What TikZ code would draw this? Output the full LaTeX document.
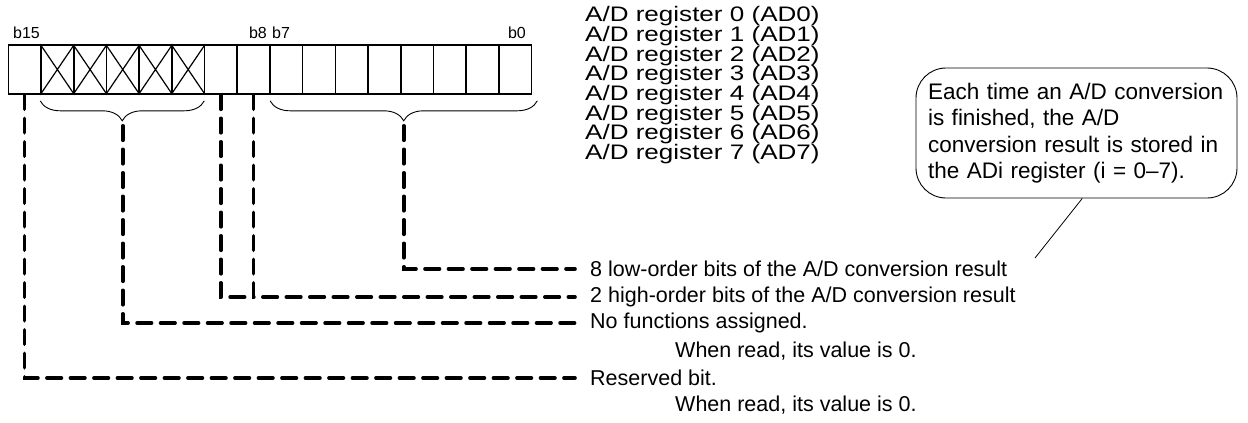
\documentclass[tikz,border=0pt]{standalone}
\usepackage{fontspec}
\setmainfont{Liberation Sans}
\newfontfamily\regfont[FakeStretch=1.24]{Liberation Sans}
\usetikzlibrary{calc}
\usetikzlibrary{decorations.pathreplacing}

\begin{document}
\begin{tikzpicture}[x=1pt, y=-1pt,
		cell/.style={draw, line width=1.6pt, minimum width=32.7pt, minimum height=49pt, inner sep=0pt},
		bitlbl/.style={font=\fontsize{16}{18}\selectfont, inner sep=0pt},
		regname/.style={font=\regfont\fontsize{21}{22}\selectfont, anchor=base west, inner sep=0pt},
		info/.style={font=\fontsize{21.5}{24}\selectfont, anchor=west, inner xsep=15pt, inner ysep=0pt},
		leader/.style={line width=3.6pt, dash pattern=on 14.5pt off 9pt, line cap=round},
		brc/.style={decorate, decoration={brace, mirror, amplitude=20pt}, line width=0.9pt}]
	\path[use as bounding box] (0,0) rectangle (1248,423);
	\foreach \i in {0,...,15}
		\node[cell] (c\i) at ({8.3+(15-\i)*32.7+16.35}, 69.5) {};
	\foreach \i in {10,...,14}
		\draw[line width=1.2pt] (c\i.north west) -- (c\i.south east) (c\i.north east) -- (c\i.south west);
	\node[bitlbl, anchor=base west] (l15) at (13,38) {b15};
	\node[bitlbl, anchor=base east] (l8) at (267,38) {b8};
	\node[bitlbl, anchor=base west] (l7) at (272,38) {b7};
	\node[bitlbl, anchor=base east] (l0) at (526,38) {b0};
	\foreach \i in {0,...,7}
		\node[regname] (ad\i) at (585, 21.7+\i*19.66) {A/D register \i\ (AD\i)};
	\draw[brc] ($(c14.south west)+(0,6)$) -- ($(c10.south east)+(-1,6)$);
	\draw[brc] ($(c7.south west)+(1,6)$) -- ($(c0.south east)+(5,6)$);
	\coordinate (hitip) at ($(c14.south west)!0.5!(c10.south east)+(0,31)$);
	\coordinate (lotip) at ($(c7.south west)!0.5!(c0.south east)+(3,31)$);
	\node[info] (low) at (575,269) {8 low-order bits of the A/D conversion result};
	\node[info] (high) at (575,297) {2 high-order bits of the A/D conversion result};
	\node[info] (nofn) at (575,323) {No functions assigned.};
	\node[info, inner xsep=0pt] (nofnval) at (675,351) {When read, its value is 0.};
	\node[info] (rsv) at (575,378) {Reserved bit.};
	\node[info, inner xsep=0pt] (rsvval) at (675,405) {When read, its value is 0.};
	\draw[leader] (lotip) |- (low.west);
	\draw[leader] (c8.south) |- (high.west);
	\draw[leader] (c9.south) |- (c8.south |- high.west);
	\draw[leader] (hitip) |- (nofn.west);
	\draw[leader] (c15.south) |- (rsv.west);
	\node[draw, line width=0.9pt, rounded corners=30pt, minimum width=321pt, minimum height=130pt, text width=297pt, inner xsep=12pt, align=left, font=\fontsize{22.5}{26.5}\selectfont] (note) at (1076.5,133) {Each time an A/D conversion\\ is finished, the A/D\\ conversion result is stored in\\ the ADi register (i = 0–7).};
	\coordinate (ptr) at (1035,258);
	\draw[line width=0.8pt] (note.-85) -- (ptr);
\end{tikzpicture}
\end{document}
